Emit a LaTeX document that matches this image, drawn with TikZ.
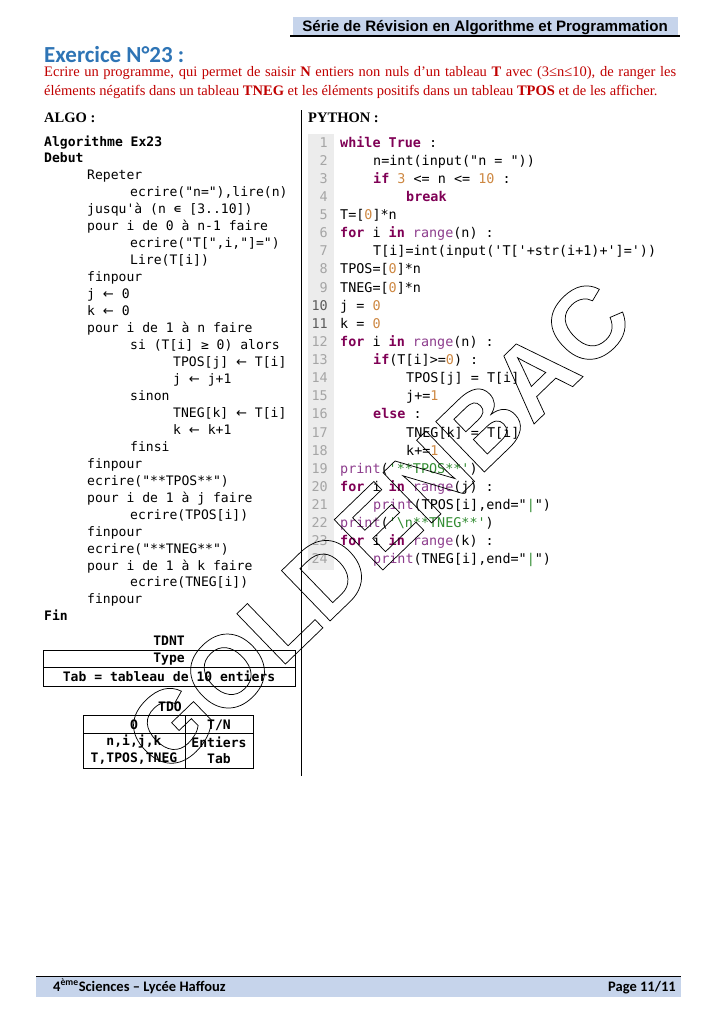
\documentclass[tikz,border=0pt]{standalone}
\usepackage{fontspec}
\setmainfont{Liberation Serif}
\setsansfont{Liberation Sans}
\setmonofont{DejaVu Sans Mono}
\newfontfamily\calibrifont{Carlito}
\newfontfamily\flechefont{DejaVu Sans}

\definecolor{barblue}{RGB}{198,212,235}
\definecolor{titleblue}{RGB}{46,116,181}
\definecolor{enonce}{RGB}{192,0,0}
\definecolor{pykwcol}{RGB}{127,0,85}
\definecolor{pynumcol}{RGB}{205,135,65}
\definecolor{pyfncol}{RGB}{140,60,140}
\definecolor{pystrcol}{RGB}{50,140,50}
\definecolor{lnback}{RGB}{236,236,236}
\definecolor{lngray}{RGB}{165,165,165}

\newcommand{\pykw}[1]{\textcolor{pykwcol}{\bfseries #1}}
\newcommand{\pynum}[1]{\textcolor{pynumcol}{#1}}
\newcommand{\pyfn}[1]{\textcolor{pyfncol}{#1}}
\newcommand{\pystr}[1]{\textcolor{pystrcol}{#1}}
\newcommand{\affecte}{{\flechefont ←}}
\newcommand{\contourtexte}[1]{\special{pdf:literal direct 1 Tr 0.6 w}#1\special{pdf:literal direct 0 Tr}}

\tikzset{
  algoline/.style={anchor=base west, inner sep=0pt, font=\fontsize{10.8}{13}\ttfamily},
  pyline/.style={anchor=base west, inner sep=0pt, font=\fontsize{11.1}{13}\ttfamily},
  lnum/.style={anchor=base east, inner sep=0pt, text=lngray, font=\fontsize{11.1}{13}\ttfamily},
  tabtxt/.style={inner sep=0pt, font=\fontsize{10.8}{13}\ttfamily\bfseries},
  rubrique/.style={anchor=base west, inner sep=0pt, font=\fontsize{12}{14}\bfseries}
}

\begin{document}
\begin{tikzpicture}[x=0.8268pt, y=-0.8268pt]

		\useasboundingbox (0,0) rectangle (720,1018);

		% Header
		\fill[barblue] (293,17) rectangle (678,35);
		\draw[line width=1pt] (290,36) -- (680,36);
		\node[anchor=base east, inner sep=0pt, font=\fontsize{12.5}{14}\sffamily\bfseries] (entete) at (668,31) {Série de Révision en Algorithme et Programmation};

		% Statement
		\node[anchor=base west, inner sep=0pt, text=titleblue, font=\fontsize{19}{21}\calibrifont\bfseries] (exo) at (44,62) {Exercice N°23 :};
		\node[anchor=base west, inner sep=0pt, text width=522.5pt, align=justify, text=enonce, font=\fontsize{12}{16.5}\selectfont] (enonce) at (44,76) {Ecrire un programme, qui permet de saisir \textbf{N} entiers non nuls d’un tableau \textbf{T} avec (3≤n≤10), de ranger les\linebreak éléments négatifs dans un tableau \textbf{TNEG} et les éléments positifs dans un tableau \textbf{TPOS} et de les afficher.};

		% Separator
		\draw[line width=0.8pt] (301,110) -- (301,776);
		\node[rubrique] (algo) at (44,122) {ALGO :};
		\node[rubrique] (python) at (308,122) {PYTHON :};

		% Algorithm
		\foreach \ind/\txt [count=\i from 0] in {
			0/{\bfseries Algorithme Ex23}, 0/{\bfseries Debut}, 1/Repeter, 2/{ecrire("n="),lire(n)},
			1/{jusqu'à (n ∊ [3..10])}, 1/{pour i de 0 à n-1 faire}, 2/{ecrire("T[",i,"]=")}, 2/{Lire(T[i])},
			1/finpour, 1/{j \affecte{} 0}, 1/{k \affecte{} 0}, 1/{pour i de 1 à n faire}, 2/{si (T[i] ≥ 0) alors},
			3/{TPOS[j] \affecte{} T[i]}, 3/{j \affecte{} j+1}, 2/sinon, 3/{TNEG[k] \affecte{} T[i]}, 3/{k \affecte{} k+1}, 2/finsi,
			1/finpour, 1/{ecrire("**TPOS**")}, 1/{pour i de 1 à j faire}, 2/{ecrire(TPOS[i])}, 1/finpour,
			1/{ecrire("**TNEG**")}, 1/{pour i de 1 à k faire}, 2/{ecrire(TNEG[i])}, 1/finpour, 0/{\bfseries Fin}}
			\node[algoline] (algo\i) at (44+43*\ind, 146+16.96*\i) {\txt};

		% Python code
		\fill[lnback] (308,134) rectangle (334,570);
		\foreach \n in {1,...,24}
			\node[lnum] (ln\n) at (328, 147+18.13*\n-18.13) {\ifnum\n>9 \ifnum\n<12 \color{lngray!55!black}\fi\fi\n};
		\foreach \ind/\txt [count=\i] in {
			0/{\pykw{while} \pykw{True} :}, 1/{n=int(input("n = "))}, 1/{\pykw{if} \pynum{3} <= n <= \pynum{10} :},
			2/{\pykw{break}}, 0/{T=[\pynum{0}]*n}, 0/{\pykw{for} i \pykw{in} \pyfn{range}(n) :},
			1/{T[i]=int(input('T['+str(i+1)+']='))}, 0/{TPOS=[\pynum{0}]*n}, 0/{TNEG=[\pynum{0}]*n},
			0/{j = \pynum{0}}, 0/{k = \pynum{0}}, 0/{\pykw{for} i \pykw{in} \pyfn{range}(n) :},
			1/{\pykw{if}(T[i]>=\pynum{0}) :}, 2/{TPOS[j] = T[i]}, 2/{j+=\pynum{1}}, 1/{\pykw{else} :},
			2/{TNEG[k] = T[i]}, 2/{k+=\pynum{1}}, 0/{\pyfn{print}(\pystr{'**TPOS**'})},
			0/{\pykw{for} i \pykw{in} \pyfn{range}(j) :}, 1/{\pyfn{print}(TPOS[i],end="\pystr{|}")},
			0/{\pyfn{print}(\pystr{'\textbackslash n**TNEG**'})}, 0/{\pykw{for} i \pykw{in} \pyfn{range}(k) :},
			1/{\pyfn{print}(TNEG[i],end="\pystr{|}")}}
			\node[pyline] (py\i) at (340+33*\ind, 147+18.13*\i-18.13) {\txt};

		% TDNT
		\node[tabtxt] (tdnt) at (169,641) {TDNT};
		\draw[line width=0.7pt] (43,650) rectangle (295,686);
		\draw[line width=0.7pt] (43,667) -- (295,667);
		\node[tabtxt] (type) at (169,659) {Type};
		\node[tabtxt] (tab) at (169,676) {Tab = tableau de 10 entiers};

		% TDO
		\node[tabtxt] (tdo) at (170,707) {TDO};
		\draw[line width=0.7pt] (83,715) rectangle (253,768);
		\draw[line width=0.7pt] (83,733) -- (253,733);
		\draw[line width=0.7pt] (185,715) -- (185,768);
		\node[tabtxt] (objet) at (134,725) {O};
		\node[tabtxt] (tn) at (219,725) {T/N};
		\node[tabtxt] (objets1) at (134,742) {n,i,j,k};
		\node[tabtxt] (types1) at (219,742) {Entiers};
		\node[tabtxt] (objets2) at (134,759) {T,TPOS,TNEG};
		\node[tabtxt] (types2) at (219,759) {Tab};

		% Footer
		\fill[barblue] (36,977) rectangle (681,997);
		\draw[line width=1.2pt] (36,976.5) -- (681,976.5);
		\node[anchor=base west, inner sep=0pt, font=\fontsize{12}{14}\calibrifont\bfseries] (classe) at (53,991) {4\textsuperscript{ème}Sciences – Lycée Haffouz};
		\node[anchor=base east, inner sep=0pt, font=\fontsize{12}{14}\calibrifont\bfseries] (page) at (676,991) {Page 11/11};

		% Watermark
		\node[rotate=44, inner sep=0pt, font=\fontsize{84}{84}\sffamily\bfseries] (filigrane) at (378,526) {\contourtexte{GOLDENBAC}};

	\end{tikzpicture}
\end{document}
